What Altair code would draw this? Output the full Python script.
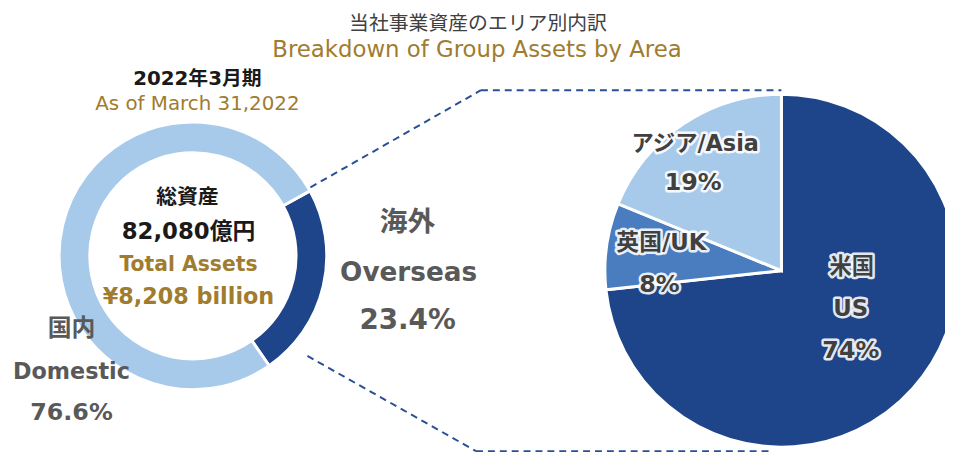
import altair as alt
import pandas as pd
import math

# ---- data ----
area_jp = ["海外", "国内"]
area_en = ["Overseas", "Domestic"]
area_share = [23.4, 76.6]
area_order = [1, 2]

region_jp = ["米国", "英国", "アジア"]
region_en = ["US", "UK", "Asia"]
region_share = [74, 8, 19]
region_order = [1, 2, 3]

title_jp = "当社事業資産のエリア別内訳"
title_en = "Breakdown of Group Assets by Area"
period_jp = "2022年3月期"
period_en = "As of March 31,2022"
total_jp = ["総資産", "82,080億円"]
total_en = ["Total Assets", "¥8,208 billion"]

# ---- styles ----
DARK = "#1e4589"
MID = "#4a7dc0"
LIGHT = "#a8caea"
GOLD = "#a07c2f"
GREY = "#595959"
LBL = "#404040"
CJK = "Noto Sans CJK JP"
FONT = "DejaVu Sans, Noto Sans CJK JP"

donut_df = pd.DataFrame({"jp": area_jp, "en": area_en, "share": area_share, "ord": area_order})
pie_df = pd.DataFrame({"jp": region_jp, "en": region_en, "share": region_share, "ord": region_order})

start = math.radians(61)
donut = alt.Chart(donut_df).mark_arc(
    outerRadius=135, innerRadius=104, stroke="white", strokeWidth=3
).encode(
    theta=alt.Theta("share:Q", stack=True, scale=alt.Scale(range=[start, start + 2 * math.pi])),
    order=alt.Order("ord:Q"),
    color=alt.Color("en:N", scale=alt.Scale(domain=area_en, range=[DARK, LIGHT]), legend=None),
    x=alt.value(186.5), y=alt.value(248),
)

pie = alt.Chart(pie_df).mark_arc(
    outerRadius=178, stroke="white", strokeWidth=3
).encode(
    theta=alt.Theta("share:Q", stack=True, scale=alt.Scale(range=[0, 2 * math.pi])),
    order=alt.Order("ord:Q"),
    color=alt.Color("en:N", scale=alt.Scale(domain=region_en, range=[DARK, MID, LIGHT]), legend=None),
    x=alt.value(780), y=alt.value(263),
)

one = alt.Data(values=[{"a": 1}])


def seg(x1, y1, x2, y2):
    return alt.Chart(one).mark_rule(
        color="#2a4f96", strokeWidth=2, strokeDash=[7, 5]
    ).encode(x=alt.value(x1), y=alt.value(y1), x2=alt.value(x2), y2=alt.value(y2))


def label(txt, x, y, size, color, weight="bold", halo=False, font=FONT):
    layers = []
    if halo:
        layers.append(alt.Chart(one).mark_text(
            text=txt, fontSize=size, font=font, fontWeight=weight, align="center",
            baseline="middle", stroke="white", strokeWidth=5, strokeJoin="round",
            strokeOpacity=0.9, color="white"
        ).encode(x=alt.value(x), y=alt.value(y)))
    layers.append(alt.Chart(one).mark_text(
        text=txt, fontSize=size, font=font, fontWeight=weight, align="center",
        baseline="middle", color=color
    ).encode(x=alt.value(x), y=alt.value(y)))
    return layers


lines = [
    seg(305, 179, 477, 81), seg(477, 81, 780, 81),
    seg(302, 349, 472, 445), seg(472, 445, 769, 445),
]

texts = []
texts += label(title_jp, 474, 14, 20, LBL, weight="normal", font=CJK)
texts += label(title_en, 473, 41, 23, GOLD, weight="normal")
texts += label(period_jp, 191, 70, 20, "#1a1a1a")
texts += label(period_en, 191, 95, 20, GOLD, weight="normal")
texts += label(total_jp[0], 181, 190, 21, "#1a1a1a", font=CJK)
texts += label(total_jp[1], 182, 224, 23, "#1a1a1a")
texts += label(total_en[0], 182, 257, 20.5, GOLD)
texts += label(total_en[1], 182, 290, 22.5, GOLD)
texts += label(area_jp[1], 64, 322, 24, GREY, font=CJK)
texts += label(area_en[1], 64, 365, 22.5, GREY)
texts += label(f"{area_share[1]}%", 64, 407, 24, GREY)
texts += label(area_jp[0], 403, 215, 28, GREY, font=CJK)
texts += label(area_en[0], 404, 265, 26.5, GREY)
texts += label(f"{area_share[0]}%", 403, 314, 28, GREY)
texts += label(f"{region_jp[2]}/{region_en[2]}", 693, 135, 22.5, LBL, halo=True)
texts += label(f"{region_share[2]}%", 691, 175, 24, LBL, halo=True)
texts += label(f"{region_jp[1]}/{region_en[1]}", 659, 235, 23, LBL, halo=True)
texts += label(f"{region_share[1]}%", 657, 278, 24, LBL, halo=True)
texts += label(region_jp[0], 851, 259, 22.5, LBL, halo=True, font=CJK)
texts += label(region_en[0], 850, 302, 23, LBL, halo=True)
texts += label(f"{region_share[0]}%", 850, 344, 24, LBL, halo=True)

chart = alt.layer(donut, pie, *lines, *texts).resolve_scale(
    theta="independent", color="independent"
).properties(
    width=945, height=447, padding=0,
    autosize=alt.AutoSizeParams(type="none"),
).configure_view(strokeWidth=0)

chart.save("out.html", embed_options={"renderer": "svg", "actions": False})
